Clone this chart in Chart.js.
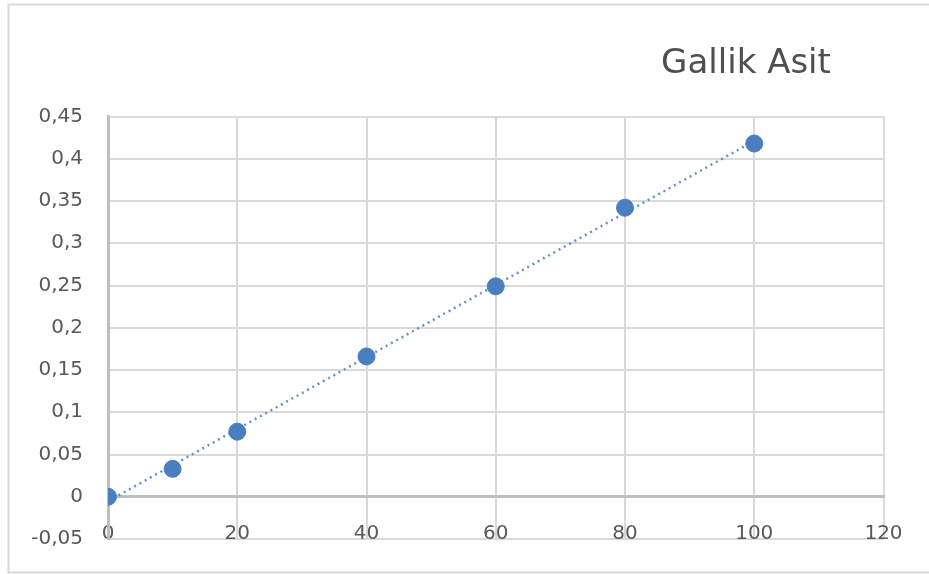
<!DOCTYPE html>
<html>
<head>
<meta charset="utf-8">
<script src="https://cdn.jsdelivr.net/npm/chart.js@4.4.1/dist/chart.umd.min.js"></script>
<style>
  body { margin: 0; background: #fff; overflow: hidden; }
  canvas { display: block; }
</style>
</head>
<body>
<canvas id="gallikChart" width="929" height="574"></canvas>
<script>
const chartTitle = 'Gallik Asit';
const concentrations = [0, 10, 20, 40, 60, 80, 100];
const absorbances = [0, 0.033, 0.077, 0.166, 0.249, 0.342, 0.418];
const xTicks = [0, 20, 40, 60, 80, 100, 120];
const yTicks = [-0.05, 0, 0.05, 0.1, 0.15, 0.2, 0.25, 0.3, 0.35, 0.4, 0.45];

// lineer trend (en küçük kareler)
function linearFit(xs, ys) {
  const n = xs.length;
  const mx = xs.reduce((a, v) => a + v, 0) / n;
  const my = ys.reduce((a, v) => a + v, 0) / n;
  let sxy = 0, sxx = 0;
  for (let i = 0; i < n; i++) {
    sxy += (xs[i] - mx) * (ys[i] - my);
    sxx += (xs[i] - mx) * (xs[i] - mx);
  }
  const slope = sxy / sxx;
  return { slope, intercept: my - slope * mx };
}

const fit = linearFit(concentrations, absorbances);
const xFirst = concentrations[0];
const xLast = concentrations[concentrations.length - 1];
const trendPoints = [xFirst, xLast].map(x => ({ x, y: fit.intercept + fit.slope * x }));

const fmt = v => Number(v.toFixed(2)).toString().replace('.', ',');

// çerçeve + başlık
const decorPlugin = {
  id: 'decor',
  beforeDraw(chart) {
    const ctx = chart.ctx;
    ctx.save();
    ctx.strokeStyle = '#d9d9d9';
    ctx.lineWidth = 2;
    ctx.beginPath();
    ctx.moveTo(940, 4.5);
    ctx.lineTo(8.5, 4.5);
    ctx.lineTo(8.5, 572.5);
    ctx.lineTo(940, 572.5);
    ctx.stroke();
    ctx.restore();
  },
  afterDraw(chart) {
    const ctx = chart.ctx;
    ctx.save();
    ctx.font = '34px "DejaVu Sans"';
    ctx.fillStyle = '#4f4f4f';
    ctx.textAlign = 'center';
    ctx.textBaseline = 'alphabetic';
    ctx.fillText(chartTitle, 746, 73);
    ctx.restore();
  }
};

const ctx = document.getElementById('gallikChart').getContext('2d');
new Chart(ctx, {
  type: 'scatter',
  data: {
    datasets: [
      {
        label: 'Trend',
        data: trendPoints,
        showLine: true,
        borderColor: 'rgba(74, 126, 190, 0.85)',
        borderWidth: 2.5,
        borderDash: [2, 4],
        pointRadius: 0,
        order: 2
      },
      {
        label: chartTitle,
        data: concentrations.map((x, i) => ({ x, y: absorbances[i] })),
        backgroundColor: '#4a7ebf',
        borderColor: '#4a7ebf',
        pointRadius: 8.5,
        pointHoverRadius: 8.5,
        order: 1
      }
    ]
  },
  options: {
    responsive: false,
    animation: false,
    layout: { padding: { left: 0, right: 45.5, top: 116.5, bottom: 35 } },
    plugins: {
      legend: { display: false },
      tooltip: { enabled: false },
      title: { display: false }
    },
    scales: {
      x: {
        type: 'linear',
        position: { y: 0 },
        min: xTicks[0],
        max: xTicks[xTicks.length - 1],
        afterBuildTicks: s => { s.ticks = xTicks.map(v => ({ value: v })); },
        afterFit: s => { s.height = 0; s.paddingLeft = 0; s.paddingRight = 0; },
        grid: { color: '#d9d9d9', lineWidth: 2, drawTicks: false },
        border: { color: '#bfbfbf', width: 3 },
        ticks: {
          padding: 25,
          color: '#595959',
          font: { family: '"DejaVu Sans"', size: 20 },
          maxRotation: 0
        }
      },
      y: {
        type: 'linear',
        min: yTicks[0],
        max: yTicks[yTicks.length - 1],
        afterBuildTicks: s => { s.ticks = yTicks.map(v => ({ value: v })); },
        afterFit: s => { s.width = 108; s.paddingTop = 0; s.paddingBottom = 0; },
        grid: { color: '#d9d9d9', lineWidth: 2, drawTicks: false },
        border: { color: '#bfbfbf', width: 3 },
        ticks: {
          padding: 25,
          color: '#595959',
          font: { family: '"DejaVu Sans"', size: 20 },
          callback: v => fmt(v)
        }
      }
    }
  },
  plugins: [decorPlugin]
});
</script>
</body>
</html>
